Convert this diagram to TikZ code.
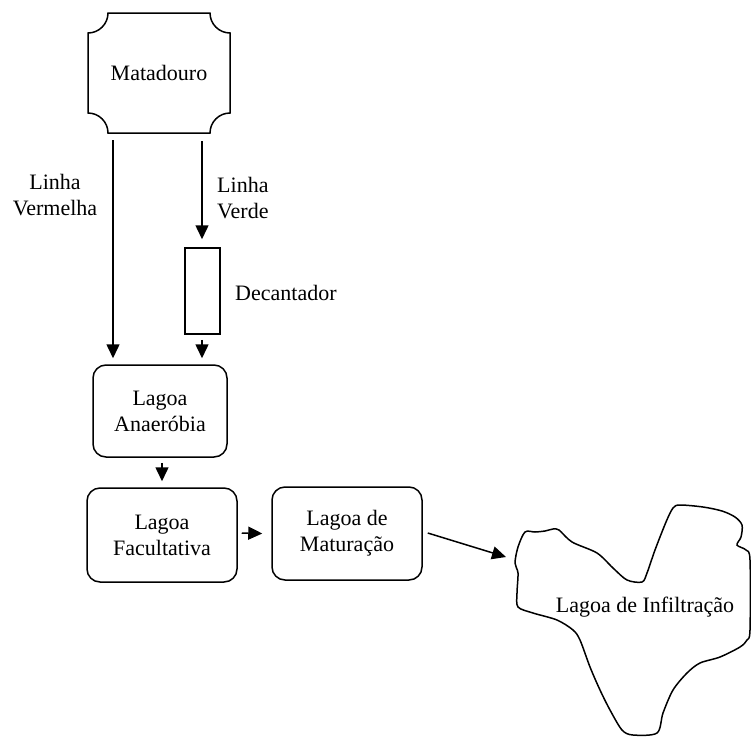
\documentclass[tikz,border=0pt]{standalone}
\usepackage{fontspec}
\setmainfont{Liberation Serif}
\usetikzlibrary{arrows.meta,calc}
\begin{document}
\begin{tikzpicture}[x=1pt,y=-1pt,
  every node/.style={font=\fontsize{22}{26}\selectfont},
  lbl/.style={align=center,inner sep=0pt},
  pond/.style={draw,line width=1.5pt,rounded corners=13pt,align=center,inner sep=0pt},
  arr/.style={line width=1.5pt,-{Triangle[length=14pt,width=13pt]}},
  frame/.style={line width=1.5pt}]
\useasboundingbox (0,0) rectangle (751,736);
% Matadouro
\node[lbl,minimum width=142pt,minimum height=120pt] (mat) at (159,73) {Matadouro};
\draw[frame] (108,13) -- (210,13) .. controls (210,24) and (219,33) .. (230,33)
  -- (230,113) .. controls (219,113) and (210,122) .. (210,133)
  -- (108,133) .. controls (108,122) and (99,113) .. (88,113)
  -- (88,33) .. controls (99,33) and (108,24) .. (108,13) -- cycle;
% Decantador
\node[draw,line width=1.5pt,minimum width=35pt,minimum height=86pt,inner sep=0pt] (dec) at (202.5,291) {};
\node[lbl,anchor=west] (dect) at (235,293) {Decantador};
% ponds
\node[pond,minimum width=134pt,minimum height=92pt] (ana) at (160,411) {Lagoa\\Anaeróbia};
\node[pond,minimum width=150pt,minimum height=94pt] (fac) at (162,535) {Lagoa\\Facultativa};
\node[pond,minimum width=150pt,minimum height=93pt] (matu) at (347,533.5) {Lagoa de\\Maturação};
% labels
\node[lbl] (verm) at (55,195) {Linha\\Vermelha};
\node[lbl,align=left,anchor=west] (verd) at (217,198) {Linha\\Verde};
% infiltration pond
\draw[frame] plot[smooth cycle,tension=0.5] coordinates {
 (525,532) (535,532) (545,531) (553,529) (559,530) (572,542) (597,553) (613,568)
 (627,580) (642,582) (647,573) (655,550) (666,522) (673,508) (680,505) (703,507) (722,511) (735,517)
 (742,525) (741,537) (737,545) (746,550) (750,560) (750,630) (747,640) (740,647)
 (720,657) (700,663) (687,673) (673,690) (663,713) (657,733) (633,735) (622,730)
 (610,710) (600,690) (590,667) (580,640) (573,630) (557,620) (533,613) (518,607)
 (517,593) (518,573) (515,563) (518,547)};
\node[lbl] (inf) at (645,607) {Lagoa de Infiltração};
\coordinate (infin) at (506,557);
% connectors
\draw[arr] ([xshift=-46pt,yshift=-7pt]mat.south) -- ([xshift=-47pt,yshift=6pt]ana.north);
\draw[arr] ([xshift=43pt,yshift=-8pt]mat.south) -- ([xshift=-0.5pt,yshift=8pt]dec.north);
\draw[arr] ([xshift=-0.5pt,yshift=-5pt]dec.south) -- ([xshift=42pt,yshift=6pt]ana.north);
\draw[arr] ([xshift=2pt,yshift=-5pt]ana.south) -- ([yshift=6pt]fac.north);
\draw[arr] ([xshift=4pt,yshift=2pt]fac.east) -- ([xshift=-9pt]matu.west);
\draw[arr] ([xshift=5pt,yshift=0.5pt]matu.east) -- (infin);
\end{tikzpicture}
\end{document}
